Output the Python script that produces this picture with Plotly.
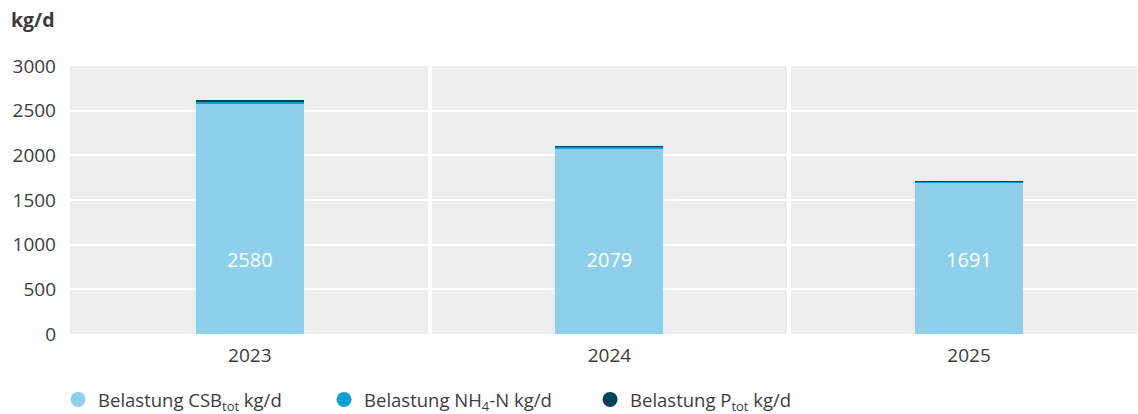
import plotly.graph_objects as go

years = ["2023", "2024", "2025"]
csb = [2580, 2079, 1691]
nh4 = [22, 15, 13]
ptot = [8, 8, 7]

names = ["Belastung CSB<sub>tot</sub> kg/d", "Belastung NH<sub>4</sub>-N kg/d", "Belastung P<sub>tot</sub> kg/d"]
colors = ["#8ecfeb", "#0a9fd6", "#00415c"]
label_y = 810
FONT = "Open Sans"
TXT = "#3c3c3c"

fig = go.Figure()
for vals, name, col in zip([csb, nh4, ptot], names, colors):
    fig.add_trace(go.Bar(x=years, y=vals, name=name, marker=dict(color=col, line=dict(width=0)),
                         width=0.3, showlegend=False, hoverinfo="skip"))
for name, col in zip(names, colors):
    fig.add_trace(go.Scatter(x=[None], y=[None], mode="markers", name=name,
                             marker=dict(symbol="circle", size=15, color=col)))

fig.add_trace(go.Scatter(x=years, y=[label_y] * len(years), mode="text",
                         text=[str(v) for v in csb], textposition="middle center",
                         textfont=dict(color="white", size=20, family=FONT),
                         showlegend=False, hoverinfo="skip"))

fig.update_layout(
    barmode="stack",
    width=1138, height=414,
    margin=dict(l=70, r=1, t=66, b=80),
    plot_bgcolor="#ededed", paper_bgcolor="white",
    font=dict(family=FONT, size=19, color=TXT),
    xaxis=dict(type="category", range=[-0.5, 2.467], tickson="boundaries",
               showgrid=True, gridcolor="white", gridwidth=4, ticks="",
               ticklabelstandoff=8, tickfont=dict(size=19, color=TXT), zeroline=False),
    yaxis=dict(range=[0, 3000], dtick=500, showgrid=True, gridcolor="white", gridwidth=2,
               zeroline=False, ticks="", ticklabelstandoff=13, tickfont=dict(size=19, color=TXT)),
    legend=dict(orientation="h", xref="container", x=0.051, xanchor="left",
                yref="container", y=0.08, yanchor="top",
                font=dict(size=18.5, color=TXT), entrywidth=221, entrywidthmode="pixels",
                traceorder="normal"),
    annotations=[dict(text="<b>kg/d</b>", xref="paper", yref="paper", x=0, y=1,
                      xshift=-61, yshift=31, xanchor="left", yanchor="bottom", showarrow=False,
                      font=dict(size=19.5, color=TXT, family=FONT))],
    bargap=0.7,
)

fig.write_html("out.html", config={"displayModeBar": False},
               post_script="document.body.style.margin='0';")
